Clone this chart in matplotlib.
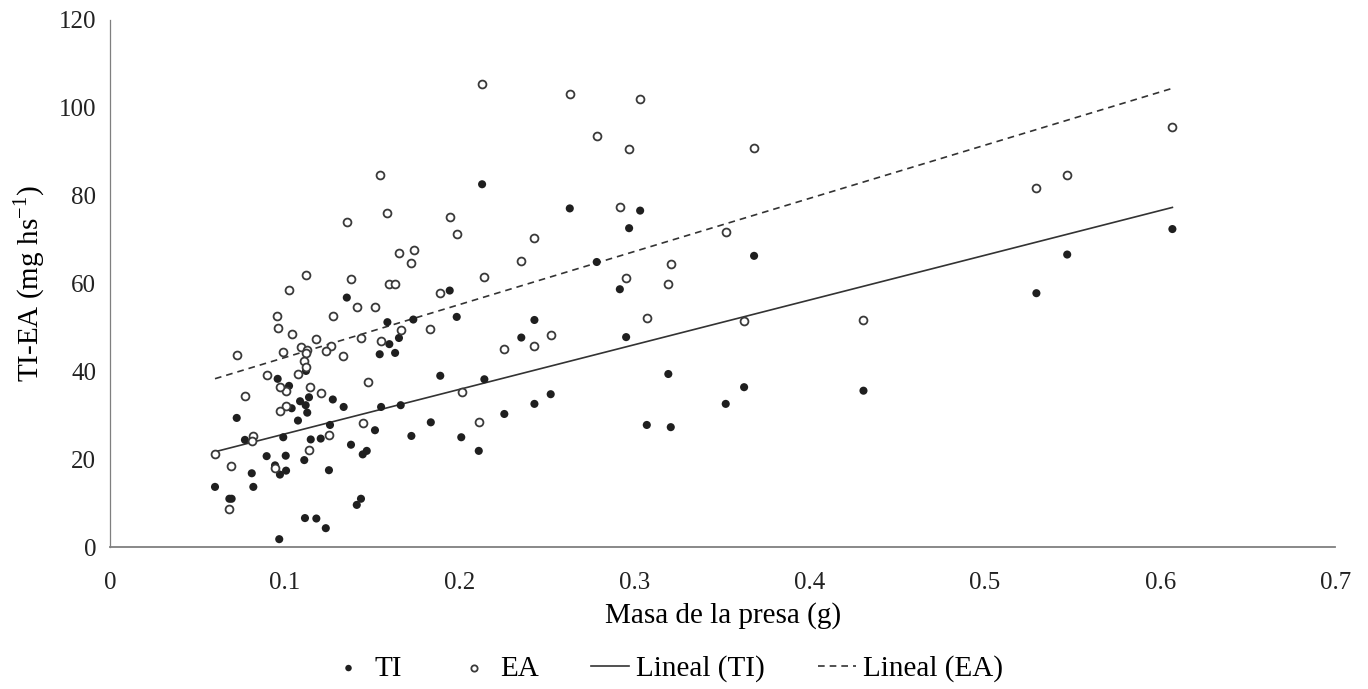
import numpy as np
import matplotlib
matplotlib.use("Agg")
import matplotlib.pyplot as plt
from matplotlib.ticker import FuncFormatter

# masa de la presa (g) y TI (mg hs-1)
ti_x = [0.0724, 0.0771, 0.0600, 0.0682, 0.0695, 0.0810, 0.0819, 0.0895, 0.0943, 0.0971,
        0.1006, 0.1004, 0.0990, 0.0967, 0.1038, 0.1086, 0.1118, 0.1137, 0.1127, 0.1074,
        0.1110, 0.1114, 0.1179, 0.1233, 0.1147, 0.1204, 0.1257, 0.1273, 0.1335, 0.1251,
        0.1377, 0.1444, 0.1467, 0.1434, 0.1410, 0.1514, 0.1549, 0.1353, 0.1585, 0.1541,
        0.1596, 0.0958, 0.1023, 0.1120, 0.1941, 0.2913, 0.1733, 0.1981, 0.2425, 0.2350,
        0.2949, 0.1651, 0.1629, 0.1887, 0.2139, 0.1661, 0.1833, 0.1722, 0.2007, 0.2107,
        0.2253, 0.2425, 0.2518, 0.3067, 0.2126, 0.2627, 0.3029, 0.2966, 0.2781, 0.3680,
        0.3190, 0.3623, 0.3518, 0.4305, 0.3204, 0.6070, 0.5469, 0.5293]
ti_y = [29.4, 24.4, 13.7, 11.0, 11.0, 16.8, 13.7, 20.7, 18.6, 16.5,
        17.4, 20.8, 25.0, 1.8, 31.6, 33.2, 32.3, 34.1, 30.6, 28.8,
        19.8, 6.6, 6.5, 4.3, 24.5, 24.7, 27.8, 33.6, 31.9, 17.5,
        23.3, 21.1, 21.9, 11.0, 9.6, 26.6, 31.9, 56.8, 51.2, 43.9,
        46.2, 38.3, 36.7, 40.1, 58.4, 58.7, 51.8, 52.4, 51.7, 47.7,
        47.8, 47.6, 44.2, 39.0, 38.2, 32.3, 28.4, 25.3, 25.0, 21.9,
        30.3, 32.6, 34.8, 27.8, 82.6, 77.1, 76.6, 72.6, 64.9, 66.3,
        39.4, 36.4, 32.6, 35.6, 27.3, 72.4, 66.6, 57.8]

# EA
ea_x = [0.0771, 0.1204, 0.1006, 0.0971, 0.0819, 0.0810, 0.0600, 0.0691, 0.0943, 0.1137,
        0.1253, 0.1447, 0.0680, 0.1004, 0.1145, 0.1118, 0.1023, 0.1377, 0.1596, 0.0953,
        0.0960, 0.1042, 0.1273, 0.1410, 0.1516, 0.1179, 0.0724, 0.0990, 0.1090, 0.1127,
        0.1118, 0.1110, 0.1120, 0.1261, 0.1233, 0.1333, 0.1436, 0.1549, 0.0895, 0.1073,
        0.0970, 0.1473, 0.1541, 0.1353, 0.1581, 0.2126, 0.2627, 0.3029, 0.2781, 0.2966,
        0.1941, 0.1981, 0.1651, 0.1735, 0.1720, 0.2350, 0.2425, 0.2914, 0.2139, 0.2949,
        0.1627, 0.1887, 0.3067, 0.1661, 0.1829, 0.2253, 0.2425, 0.2518, 0.2010, 0.2107,
        0.3680, 0.3518, 0.3204, 0.3190, 0.3623, 0.4305, 0.6070, 0.5469, 0.5293]
ea_y = [34.4, 35.0, 32.1, 31.0, 25.3, 24.2, 21.2, 18.5, 18.0, 22.2,
        25.5, 28.2, 8.7, 35.5, 36.4, 61.9, 58.5, 61.0, 60.0, 52.6,
        49.9, 48.4, 52.6, 54.6, 54.6, 47.4, 43.8, 44.4, 45.5, 44.9,
        44.1, 42.3, 40.9, 45.7, 44.7, 43.4, 47.5, 47.0, 39.2, 39.5,
        36.5, 37.5, 84.6, 74.1, 76.1, 105.4, 103.1, 102.0, 93.6, 90.6,
        75.1, 71.2, 66.9, 67.6, 64.7, 65.2, 70.4, 77.5, 61.4, 61.2,
        60.0, 57.8, 52.2, 49.4, 49.6, 45.1, 45.8, 48.2, 35.4, 28.4,
        90.8, 71.7, 64.4, 60.0, 51.5, 51.8, 95.7, 84.6, 81.8]

xticks = [0, 0.1, 0.2, 0.3, 0.4, 0.5, 0.6, 0.7]
yticks = [0, 20, 40, 60, 80, 100, 120]

plt.rcParams["font.family"] = ["Liberation Serif", "DejaVu Serif"]
plt.rcParams["font.size"] = 14

fig = plt.figure(figsize=(13.68, 6.89), dpi=100)
ax = fig.add_axes([0.0804, 0.206, 0.8956, 0.765])

ax.scatter(ti_x, ti_y, s=34, color="#1f1f1f", edgecolors="none", label="TI", zorder=3)
ax.scatter(ea_x, ea_y, s=32, facecolors="white", edgecolors="#3a3a3a",
           linewidths=1.3, label="EA", zorder=3)

# lineas de tendencia (minimos cuadrados)
for xs, ys, ls, lab in [(ti_x, ti_y, "-", "Lineal (TI)"), (ea_x, ea_y, (0, (4, 3)), "Lineal (EA)")]:
    m, b = np.polyfit(xs, ys, 1)
    xx = np.array([min(xs), max(xs)])
    ax.plot(xx, m * xx + b, color="#333333", lw=1.2, ls=ls, label=lab, zorder=2)

ax.set_xlim(0, 0.7)
ax.set_ylim(0, 120)
ax.set_xticks(xticks)
ax.set_yticks(yticks)
ax.xaxis.set_major_formatter(FuncFormatter(lambda v, p: "%g" % v))
ax.tick_params(length=0, labelsize=18, colors="#222222")
ax.tick_params(axis="x", pad=18)
ax.tick_params(axis="y", pad=10)
for side in ["top", "right"]:
    ax.spines[side].set_visible(False)
for side in ["left", "bottom"]:
    ax.spines[side].set_color("#7f7f7f")
ax.spines["left"].set_linewidth(0.9)
ax.spines["bottom"].set_linewidth(1.3)

ax.set_xlabel("Masa de la presa (g)", fontsize=21, labelpad=6)
ax.set_ylabel("TI-EA (mg hs$^{\\mathregular{-1}}$)", fontsize=21, labelpad=8)

fig.legend(loc="lower center", bbox_to_anchor=(0.487, -0.028), ncol=4, frameon=False,
           fontsize=21, handlelength=1.3, handletextpad=0.25, columnspacing=1.8,
           markerscale=0.8)

fig.savefig("out.png", dpi=100)
